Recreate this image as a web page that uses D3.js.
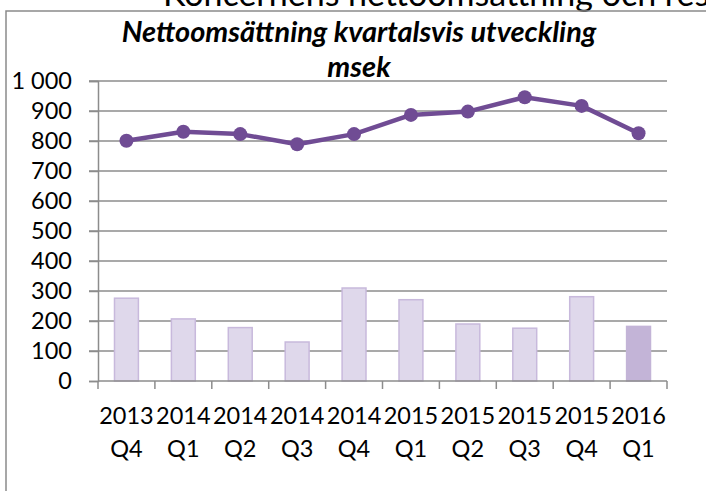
<!DOCTYPE html>
<html><head><meta charset="utf-8">
<script src="https://cdn.jsdelivr.net/npm/d3@7"></script>
<style>html,body{margin:0;padding:0;background:#fff;}svg{display:block;}</style>
</head><body>
<svg id="c" width="706" height="491"></svg>
<script>
const years = ["2013","2014","2014","2014","2014","2015","2015","2015","2015","2016"];
const quarters = ["Q4","Q1","Q2","Q3","Q4","Q1","Q2","Q3","Q4","Q1"];
const categories = years.map((y,i)=>y+" "+quarters[i]);
const barValues = [276, 207, 178, 130, 310, 271, 190, 176, 281, 182];
const lineValues = [801, 831, 823, 789, 823, 887, 898, 946, 917, 826];
const yTicks = [0,100,200,300,400,500,600,700,800,900,1000];
const yTickLabels = ["0","100","200","300","400","500","600","700","800","900","1 000"];
const titleLines = ["Nettoomsättning kvartalsvis utveckling","msek"];
const topText = "Koncernens nettoomsättning och resultat";

const svg = d3.select("#c");
const FONT = "Lato, 'Open Sans', sans-serif";
const gridCol = "#8c8c8c";
const LBL = 23.5;

svg.append("rect").attr("width",706).attr("height",491).attr("fill","#fff");

// cut-off page text above the chart
svg.append("text").attr("x",163).attr("y",6)
  .attr("font-family",FONT).attr("font-size",34).attr("fill","#000").text(topText);

// chart frame
svg.append("path").attr("d","M6,491V11H706").attr("fill","none")
  .attr("stroke","#8a8a8a").attr("stroke-width",1.5);

const x = d3.scaleBand().domain(categories).range([98,667]).padding(0);
const y = d3.scaleLinear().domain([0,1000]).range([381,81]);

// gridlines
svg.append("g").selectAll("line").data(yTicks.filter(d=>d>0)).join("line")
  .attr("x1",89).attr("x2",667).attr("y1",d=>y(d)).attr("y2",d=>y(d))
  .attr("stroke",gridCol).attr("stroke-width",1.5);

// y axis
const yAxis = d3.axisLeft(y).tickValues(yTicks).tickSize(9).tickPadding(17)
  .tickFormat((d,i)=>yTickLabels[i]);
const gy = svg.append("g").attr("transform","translate(98,0)").call(yAxis);
gy.select(".domain").attr("stroke",gridCol).attr("stroke-width",1.5);
gy.selectAll(".tick line").attr("stroke",gridCol).attr("stroke-width",1.5);
gy.selectAll(".tick text").attr("font-family",FONT).attr("font-size",LBL).attr("fill","#000");

// bars
const bw = x.bandwidth()*0.42;
svg.append("g").selectAll("rect").data(barValues).join("rect")
  .attr("x",(d,i)=>x(categories[i])+x.bandwidth()/2-bw/2)
  .attr("y",d=>y(d)).attr("width",bw).attr("height",d=>y(0)-y(d))
  .attr("fill",(d,i)=>i===barValues.length-1?"#c3b4d7":"#dfd8eb")
  .attr("stroke",(d,i)=>i===barValues.length-1?"#c3b4d7":"#c8b9dc").attr("stroke-width",1.5);

// x axis
const gx = svg.append("g").attr("transform","translate(0,381)");
gx.append("line").attr("x1",98).attr("x2",667).attr("stroke",gridCol).attr("stroke-width",1.5);
const bounds = categories.map(c=>x(c)).concat([x.range()[1]]);
gx.selectAll("line.tk").data(bounds).join("line").attr("class","tk")
  .attr("x1",d=>d).attr("x2",d=>d).attr("y1",0).attr("y2",8)
  .attr("stroke",gridCol).attr("stroke-width",1.5);
const lab = gx.selectAll("text.lb").data(categories).join("text").attr("class","lb")
  .attr("text-anchor","middle").attr("font-family",FONT).attr("font-size",LBL).attr("fill","#000");
lab.append("tspan").attr("x",d=>x(d)+x.bandwidth()/2).attr("y",43).text((d,i)=>years[i]);
lab.append("tspan").attr("x",d=>x(d)+x.bandwidth()/2).attr("y",76).text((d,i)=>quarters[i]);

// line
const cx = (d,i)=>x(categories[i])+x.bandwidth()/2;
svg.append("path").datum(lineValues)
  .attr("d",d3.line().x(cx).y(d=>y(d)))
  .attr("fill","none").attr("stroke","#704c94").attr("stroke-width",4.5).attr("stroke-linejoin","round");
svg.append("g").selectAll("circle").data(lineValues).join("circle")
  .attr("cx",cx).attr("cy",d=>y(d)).attr("r",7).attr("fill","#704c94");

// title
const t1 = svg.append("text").attr("x",359).attr("y",42).attr("text-anchor","middle")
  .attr("font-family",FONT).attr("font-weight","bold").attr("font-style","italic")
  .attr("font-size",22).attr("fill","#000").text(titleLines[0]);
const w = t1.node().getComputedTextLength();
const fs = 22*475/w;
t1.attr("font-size",fs);
svg.append("text").attr("x",359).attr("y",77).attr("text-anchor","middle")
  .attr("font-family",FONT).attr("font-weight","bold").attr("font-style","italic")
  .attr("font-size",fs).attr("fill","#000").text(titleLines[1]);
</script>
</body></html>
